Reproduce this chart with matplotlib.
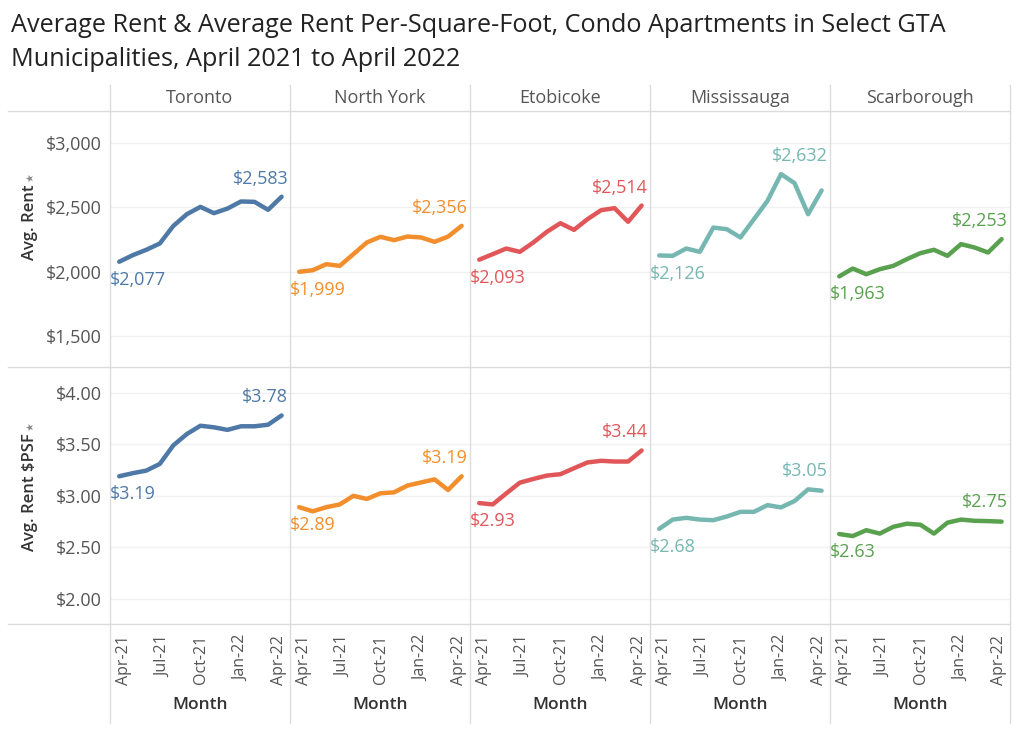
import matplotlib
matplotlib.use('Agg')
import matplotlib.pyplot as plt
from matplotlib.lines import Line2D
import matplotlib.transforms as mtransforms

# ---------------- data ----------------
months = ['Apr-21', 'May-21', 'Jun-21', 'Jul-21', 'Aug-21', 'Sep-21', 'Oct-21',
          'Nov-21', 'Dec-21', 'Jan-22', 'Feb-22', 'Mar-22', 'Apr-22']
tick_labels = ['Apr-21', 'Jul-21', 'Oct-21', 'Jan-22', 'Apr-22']
municipalities = ['Toronto', 'North York', 'Etobicoke', 'Mississauga', 'Scarborough']
colors = ['#4e79a7', '#f28e2b', '#e15759', '#76b7b2', '#59a14f']

rent_toronto = [2077, 2128, 2170, 2219, 2356, 2447, 2504, 2455, 2491, 2546, 2543, 2481, 2583]
rent_north_york = [1999, 2011, 2058, 2045, 2136, 2227, 2271, 2245, 2273, 2266, 2232, 2273, 2356]
rent_etobicoke = [2093, 2136, 2180, 2154, 2227, 2310, 2377, 2325, 2408, 2478, 2494, 2388, 2514]
rent_mississauga = [2126, 2123, 2180, 2154, 2343, 2330, 2266, 2408, 2551, 2759, 2689, 2447, 2632]
rent_scarborough = [1963, 2024, 1980, 2019, 2045, 2097, 2144, 2170, 2123, 2214, 2188, 2149, 2253]

psf_toronto = [3.19, 3.22, 3.245, 3.31, 3.49, 3.60, 3.68, 3.665, 3.64, 3.675, 3.675, 3.69, 3.78]
psf_north_york = [2.89, 2.85, 2.89, 2.917, 3.00, 2.97, 3.025, 3.034, 3.10, 3.13, 3.16, 3.057, 3.19]
psf_etobicoke = [2.93, 2.917, 3.024, 3.128, 3.164, 3.197, 3.21, 3.268, 3.324, 3.34, 3.333, 3.333, 3.44]
psf_mississauga = [2.68, 2.77, 2.787, 2.77, 2.764, 2.80, 2.845, 2.845, 2.91, 2.888, 2.95, 3.063, 3.05]
psf_scarborough = [2.63, 2.61, 2.667, 2.634, 2.70, 2.73, 2.72, 2.634, 2.74, 2.77, 2.758, 2.755, 2.75]

rent_ticks = [1500, 2000, 2500, 3000]
psf_ticks = [2.00, 2.50, 3.00, 3.50, 4.00]

rent_series = [rent_toronto, rent_north_york, rent_etobicoke, rent_mississauga, rent_scarborough]
psf_series = [psf_toronto, psf_north_york, psf_etobicoke, psf_mississauga, psf_scarborough]

# ---------------- figure ----------------
W, H = 1024, 743
plt.rcParams['font.family'] = ['Open Sans', 'DejaVu Sans']
fig = plt.figure(figsize=(W / 100, H / 100), dpi=100)
fig.patch.set_facecolor('white')

col_left = [110, 290, 470, 650, 830]
col_w = 180
rows = [(111, 367), (367, 624)]
frame_col = '#dcdcdc'
grid_col = '#f1f1f1'
tick_col = '#555555'

def fx(px):
    return px / W

def fy(py):
    return 1 - py / H

x_idx = list(range(len(months)))
tick_pos = [months.index(t) for t in tick_labels]
label_nudge_px = [5, 3, 1, 0, -3]   # Tableau keeps the end labels inside the pane

for r, (ytop, ybot) in enumerate(rows):
    data = rent_series if r == 0 else psf_series
    ticks = rent_ticks if r == 0 else psf_ticks
    ylim = (1258, 3250) if r == 0 else (1.757, 4.25)
    for c in range(5):
        ax = fig.add_axes([fx(col_left[c]), fy(ybot), fx(col_w), (ybot - ytop) / H])
        ax.set_facecolor('none')
        for s in ax.spines.values():
            s.set_visible(False)
        ax.set_xlim(-0.68, 12.62)
        ax.set_ylim(*ylim)
        ax.set_yticks(ticks)
        for t in ticks:
            ax.axhline(t, color=grid_col, lw=1, zorder=0)
        if c == 0:
            if r == 0:
                ax.set_yticklabels(['${:,.0f}'.format(t) for t in ticks])
            else:
                ax.set_yticklabels(['${:.2f}'.format(t) for t in ticks])
        else:
            ax.set_yticklabels([])
        ax.tick_params(axis='y', length=0, pad=6, labelsize=13, labelcolor=tick_col)
        if r == 1:
            ax.set_xticks(tick_pos)
            ax.set_xticklabels(tick_labels, rotation=90)
            ax.tick_params(axis='x', length=0, pad=8, labelsize=11.5, labelcolor=tick_col)
            for lab, dx in zip(ax.get_xticklabels(), label_nudge_px):
                lab.set_transform(lab.get_transform() +
                                  mtransforms.ScaledTranslation(dx / 100, 0, fig.dpi_scale_trans))
            ax.set_xlabel('Month', fontsize=12.5, fontweight='semibold', color='#333333', labelpad=9)
        else:
            ax.set_xticks([])
        vals = data[c]
        ax.plot(x_idx, vals, color=colors[c], lw=3.2, solid_capstyle='round',
                solid_joinstyle='round', zorder=3)
        fmt = (lambda v: '${:,.0f}'.format(v)) if r == 0 else (lambda v: '${:.2f}'.format(v))
        trans = mtransforms.blended_transform_factory(ax.transAxes, ax.transData)
        ax.annotate(fmt(vals[0]), xy=(0.0, vals[0]), xycoords=trans,
                    xytext=(0, -13), textcoords='offset points',
                    ha='left', va='center', fontsize=13, color=colors[c])
        top_anchor = max(vals[-4:])
        ax.annotate(fmt(vals[-1]), xy=(0.99, top_anchor), xycoords=trans,
                    xytext=(0, 13), textcoords='offset points',
                    ha='right', va='center', fontsize=13, color=colors[c])

# headers
for c in range(5):
    fig.text(fx(col_left[c] + col_w / 2), fy(98), municipalities[c], ha='center', va='center',
             fontsize=13, color=tick_col)

# y axis titles with small pin icon above
renderer = fig.canvas.get_renderer()
for label, ycen in [('Avg. Rent', 222), ('Avg. Rent $PSF', 492)]:
    t = fig.text(fx(30), fy(ycen), label, rotation=90, ha='center', va='center',
                 fontsize=12, fontweight='semibold', color='#333333')
    bb = t.get_window_extent(renderer=renderer)
    top_px = H - bb.y1
    fig.text(fx(30), fy(top_px - 7), '★', rotation=90, ha='center', va='center',
             fontsize=7, color='#888888', family='DejaVu Sans')

# frame lines
for y in [111, 367, 624]:
    fig.add_artist(Line2D([fx(8), fx(1010)], [fy(y), fy(y)], transform=fig.transFigure,
                          color=frame_col, lw=1))
for x in [110, 290, 470, 650, 830, 1010]:
    fig.add_artist(Line2D([fx(x), fx(x)], [fy(85), fy(723)], transform=fig.transFigure,
                          color=frame_col, lw=1))

# title
fig.text(fx(11), fy(25), 'Average Rent & Average Rent Per-Square-Foot, Condo Apartments in Select GTA',
         ha='left', va='center', fontsize=18.2, color='#222222')
fig.text(fx(11), fy(60), 'Municipalities, April 2021 to April 2022',
         ha='left', va='center', fontsize=18.2, color='#222222')

fig.savefig('out.png', dpi=100, facecolor='white')
